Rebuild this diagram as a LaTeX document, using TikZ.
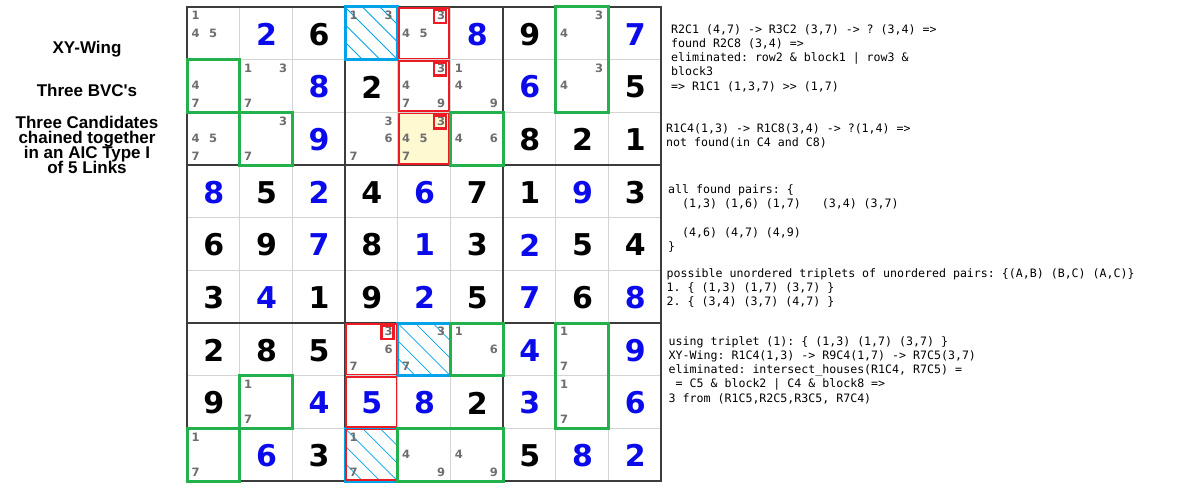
\documentclass[tikz,border=0pt]{standalone}
\usepackage{fontspec}
\newfontfamily\digfont{DejaVu Sans}
\newfontfamily\labfont{Liberation Sans}
\newfontfamily\monofont{DejaVu Sans Mono}
\definecolor{gblue}{RGB}{10,10,235}
\definecolor{pgray}{RGB}{110,110,110}
\definecolor{thinc}{RGB}{212,212,212}
\definecolor{thickc}{RGB}{60,60,60}
\definecolor{hred}{RGB}{237,28,36}
\definecolor{hgreen}{RGB}{34,177,76}
\definecolor{hblue}{RGB}{0,162,232}
\definecolor{hyellow}{RGB}{255,249,210}
\begin{document}
\begin{tikzpicture}[x=1pt,y=-1pt,
  big/.style={font=\digfont\bfseries\fontsize{30}{30}\selectfont, inner sep=0},
  pm/.style={font=\digfont\bfseries\fontsize{11.5}{11.5}\selectfont, text=pgray, inner sep=0},
  lab/.style={font=\labfont\bfseries\fontsize{17}{17}\selectfont, anchor=base, inner sep=0},
  mono/.style={font=\monofont\fontsize{11.6}{11.6}\selectfont\frenchspacing, anchor=base west, inner sep=0},
  greenbox/.style={draw=hgreen, line width=3},
  bluebox/.style={draw=hblue, line width=3},
  redcell/.style={draw=hred, line width=1.6},
  redmark/.style={draw=hred, line width=2.5},
  hatchline/.style={draw=hblue, line width=0.8},
  thingrid/.style={draw=thinc, line width=1.5},
  thickgrid/.style={draw=thickc, line width=2.2},
]
\def\S{52.67}
\def\X{187}
\def\Y{7}
\useasboundingbox (0,0) rectangle (1183,497);
\fill[white] (0,0) rectangle (1183,497);

% yellow highlight
\fill[hyellow] ({\X+4*\S},{\Y+2*\S}) rectangle ++(\S,\S);

% grid
\foreach \i in {1,2,4,5,7,8} {
  \draw[thingrid] ({\X+\i*\S},\Y) -- ++(0,{9*\S});
  \draw[thingrid] (\X,{\Y+\i*\S}) -- ++({9*\S},0);
}
\foreach \i in {3,6} {
  \draw[thickgrid] ({\X+\i*\S},\Y) -- ++(0,{9*\S});
  \draw[thickgrid] (\X,{\Y+\i*\S}) -- ++({9*\S},0);
}
\draw[thickgrid] (\X,\Y) rectangle ++({9*\S},{9*\S});

% hatching of blue cells
\foreach \r/\c in {1/4,7/5,9/4} {
  \begin{scope}
    \clip ({\X+(\c-1)*\S},{\Y+(\r-1)*\S}) rectangle ++(\S,\S);
    \foreach \k in {-2,...,2}
      \draw[hatchline] ({\X+(\c-1)*\S+\k*17.5},{\Y+(\r-1)*\S}) -- ++(\S,\S);
  \end{scope}
}

% blue boxes
\foreach \r/\c in {1/4,7/5,9/4}
  \draw[bluebox] ({\X+(\c-1)*\S},{\Y+(\r-1)*\S}) rectangle ++(\S,\S);

% red cells
\foreach \r/\c in {1/5,2/5,3/5,7/4,8/4,9/4}
  \draw[redcell] ({\X+(\c-1)*\S+1.2},{\Y+(\r-1)*\S+1.2}) rectangle ++({\S-2.4},{\S-2.4});

% green boxes
\foreach \ca/\ra/\cb/\rb in {1/2/1/2, 2/3/2/3, 6/3/6/3, 8/1/8/2, 6/7/6/7, 8/7/8/8, 2/8/2/8, 1/9/1/9, 5/9/6/9}
  \draw[greenbox] ({\X+(\ca-1)*\S},{\Y+(\ra-1)*\S}) rectangle ({\X+\cb*\S},{\Y+\rb*\S});

% big digits
\foreach \r/\c/\d/\col in {
  1/2/2/gblue, 1/3/6/black, 1/6/8/gblue, 1/7/9/black, 1/9/7/gblue,
  2/3/8/gblue, 2/4/2/black, 2/7/6/gblue, 2/9/5/black,
  3/3/9/gblue, 3/7/8/black, 3/8/2/black, 3/9/1/black,
  4/1/8/gblue, 4/2/5/black, 4/3/2/gblue, 4/4/4/black, 4/5/6/gblue, 4/6/7/black, 4/7/1/black, 4/8/9/gblue, 4/9/3/black,
  5/1/6/black, 5/2/9/black, 5/3/7/gblue, 5/4/8/black, 5/5/1/gblue, 5/6/3/black, 5/7/2/gblue, 5/8/5/black, 5/9/4/black,
  6/1/3/black, 6/2/4/gblue, 6/3/1/black, 6/4/9/black, 6/5/2/gblue, 6/6/5/black, 6/7/7/gblue, 6/8/6/black, 6/9/8/gblue,
  7/1/2/black, 7/2/8/black, 7/3/5/black, 7/7/4/gblue, 7/9/9/gblue,
  8/1/9/black, 8/3/4/gblue, 8/4/5/gblue, 8/5/8/gblue, 8/6/2/black, 8/7/3/gblue, 8/9/6/gblue,
  9/2/6/gblue, 9/3/3/black, 9/7/5/black, 9/8/8/gblue, 9/9/2/gblue}
  \node[big, text=\col] (d\r\c) at ({\X+(\c-0.5)*\S+0.5},{\Y+(\r-0.5)*\S+1}) {\d};

% pencil marks
\foreach \r/\c/\l in {
  1/1/{1,4,5}, 1/4/{1,3}, 1/5/{3,4,5}, 1/8/{3,4},
  2/1/{4,7}, 2/2/{1,3,7}, 2/5/{3,4,7,9}, 2/6/{1,4,9}, 2/8/{3,4},
  3/1/{4,5,7}, 3/2/{3,7}, 3/4/{3,6,7}, 3/5/{3,4,5,7}, 3/6/{4,6},
  7/4/{3,6,7}, 7/5/{3,7}, 7/6/{1,6}, 7/8/{1,7},
  8/2/{1,7}, 8/8/{1,7},
  9/1/{1,7}, 9/4/{1,7}, 9/5/{4,9}, 9/6/{4,9}}
{
  \foreach \k in \l {
    \node[pm] (p\r\c\k) at
      ({\X+(\c-1)*\S+8.5+17.5*mod(\k-1,3)},{\Y+(\r-1)*\S+8.5+17.5*floor((\k-1)/3)}) {\k};
  }
}

% red marks around candidate 3
\foreach \r/\c in {1/5,2/5,3/5,7/4}
  \draw[redmark] ([xshift=-1pt,yshift=-1pt]p\r\c3.center) ++(-6,-6.5) rectangle ++(12,13);

% left title text
\node[lab] (t1) at (87,53.3) {XY-Wing};
\node[lab] (t2) at (87,96.7) {Three BVC{\char"27}s};
\node[lab] (t3) at (87,128.3) {Three Candidates};
\node[lab] (t4) at (87,143.5) {chained together};
\node[lab] (t5) at (87,158.8) {in an AIC Type I};
\node[lab] (t6) at (87,174) {of 5 Links};

% right explanatory text
\node[mono] (a1) at (671,33.3) {R2C1 (4,7) -> R3C2 (3,7) -> ? (3,4) =>};
\node[mono] (a2) at (671,47.5) {found R2C8 (3,4) =>};
\node[mono] (a3) at (671,61.7) {eliminated: row2 \& block1 | row3 \&};
\node[mono] (a4) at (671,75.9) {block3};
\node[mono] (a5) at (671,90.1) {=> R1C1 (1,3,7) >{}> (1,7)};

\node[mono] (b1) at (666,132.2) {R1C4(1,3) -> R1C8(3,4) -> ?(1,4) =>};
\node[mono] (b2) at (666,146.4) {not found(in C4 and C8)};

\node[mono] (c1) at (668,193.5) {all found pairs: \{};
\node[mono] (c2) at (668,207.7) {~~(1,3) (1,6) (1,7)~~~(3,4) (3,7)};
\node[mono] (c3) at (668,236.1) {~~(4,6) (4,7) (4,9)};
\node[mono] (c4) at (668,250.3) {\}};
\node[mono] (c5) at (666.5,277.5) {possible unordered triplets of unordered pairs: \{(A,B) (B,C) (A,C)\}};
\node[mono] (c6) at (666.5,291.7) {1. \{ (1,3) (1,7) (3,7) \}};
\node[mono] (c7) at (666.5,305.9) {2. \{ (3,4) (3,7) (4,7) \}};

\node[mono] (e1) at (668.5,345.3) {using triplet (1): \{ (1,3) (1,7) (3,7) \}};
\node[mono] (e2) at (668.5,359.5) {XY-Wing: R1C4(1,3) -> R9C4(1,7) -> R7C5(3,7)};
\node[mono] (e3) at (668.5,373.7) {eliminated: intersect\_houses(R1C4, R7C5) =};
\node[mono] (e4) at (668.5,387.9) {~= C5 \& block2 | C4 \& block8 =>};
\node[mono] (e5) at (668.5,402.1) {3 from (R1C5,R2C5,R3C5, R7C4)};
\end{tikzpicture}
\end{document}
